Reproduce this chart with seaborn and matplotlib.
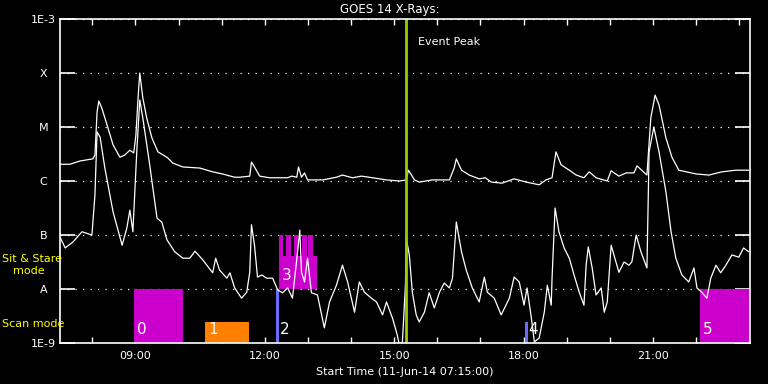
import numpy as np
import pandas as pd
import matplotlib
matplotlib.use('Agg')
import matplotlib.pyplot as plt
from matplotlib.ticker import FixedLocator, FuncFormatter, NullLocator
import seaborn as sns

# hours (UT, 11-Jun-14) and log10 of flux in W/m^2
long_hr = [7.25, 7.48, 7.71, 8.01, 8.06, 8.11, 8.15, 8.22, 8.34, 8.48, 8.64, 8.75, 8.87, 8.96,
           9.01, 9.06, 9.10, 9.17, 9.26, 9.38, 9.52, 9.73, 9.87, 10.10, 10.49, 10.79, 11.02,
           11.30, 11.42, 11.65, 11.69, 11.76, 11.88, 12.11, 12.53, 12.62, 12.74, 12.78, 12.85,
           12.92, 12.99, 13.34, 13.66, 13.80, 14.03, 14.24, 14.50, 14.82, 15.12, 15.28, 15.33,
           15.47, 15.58, 15.88, 16.28, 16.39, 16.44, 16.56, 16.74, 16.97, 17.11, 17.25, 17.50,
           17.78, 18.06, 18.36, 18.52, 18.66, 18.75, 18.87, 19.06, 19.22, 19.40, 19.52, 19.68,
           19.94, 20.03, 20.21, 20.38, 20.56, 20.63, 20.86, 20.95, 21.05, 21.14, 21.30, 21.44,
           21.60, 22.00, 22.30, 22.60, 22.92, 23.22]
long_log = [-5.69, -5.69, -5.63, -5.59, -5.52, -4.72, -4.52, -4.65, -4.96, -5.33, -5.56, -5.52,
            -5.43, -5.48, -5.15, -4.46, -4.00, -4.46, -4.83, -5.20, -5.46, -5.56, -5.67, -5.74,
            -5.76, -5.83, -5.87, -5.93, -5.93, -5.91, -5.65, -5.74, -5.91, -5.94, -5.94, -5.91,
            -5.93, -5.74, -5.93, -5.85, -5.98, -5.98, -5.93, -5.89, -5.94, -5.91, -5.94, -5.98,
            -6.00, -5.98, -5.80, -5.98, -6.02, -5.98, -5.98, -5.76, -5.59, -5.80, -5.89, -5.96,
            -5.94, -6.02, -6.04, -5.96, -6.02, -6.07, -5.98, -5.94, -5.46, -5.70, -5.80, -5.89,
            -5.94, -5.83, -5.94, -6.00, -5.81, -5.91, -5.85, -5.85, -5.72, -5.89, -4.83, -4.41,
            -4.59, -5.20, -5.56, -5.80, -5.87, -5.89, -5.83, -5.80, -5.80]

short_hr = [7.25, 7.37, 7.55, 7.76, 7.99, 8.06, 8.11, 8.18, 8.29, 8.48, 8.69, 8.80, 8.87, 8.94,
            9.03, 9.10, 9.17, 9.33, 9.50, 9.61, 9.73, 9.91, 10.10, 10.26, 10.38, 10.56, 10.79,
            10.86, 10.95, 11.12, 11.19, 11.30, 11.46, 11.58, 11.65, 11.69, 11.76, 11.83, 11.93,
            12.04, 12.18, 12.30, 12.41, 12.53, 12.64, 12.76, 12.81, 12.85, 12.92, 12.99, 13.08,
            13.22, 13.38, 13.50, 13.66, 13.80, 13.92, 14.08, 14.19, 14.31, 14.47, 14.59, 14.73,
            14.82, 14.96, 15.07, 15.12, 15.19, 15.26, 15.28, 15.35, 15.42, 15.51, 15.58, 15.70,
            15.81, 15.93, 16.05, 16.16, 16.28, 16.35, 16.44, 16.56, 16.67, 16.81, 16.97, 17.09,
            17.16, 17.32, 17.48, 17.67, 17.78, 17.90, 18.01, 18.08, 18.18, 18.25, 18.36, 18.48,
            18.55, 18.64, 18.66, 18.73, 18.82, 18.94, 19.06, 19.17, 19.29, 19.40, 19.45, 19.50,
            19.59, 19.68, 19.80, 19.87, 19.94, 20.03, 20.21, 20.33, 20.44, 20.51, 20.61, 20.72,
            20.86, 20.91, 21.02, 21.14, 21.30, 21.42, 21.53, 21.67, 21.83, 21.95, 22.02, 22.13,
            22.25, 22.34, 22.46, 22.57, 22.69, 22.83, 22.99, 23.10, 23.22]
short_log = [-7.04, -7.24, -7.13, -6.94, -7.00, -6.26, -5.09, -5.19, -5.76, -6.57, -7.19, -6.87,
             -6.54, -6.94, -5.46, -4.50, -4.83, -5.70, -6.69, -6.76, -7.09, -7.31, -7.43, -7.43,
             -7.30, -7.46, -7.70, -7.43, -7.65, -7.80, -7.70, -7.98, -8.17, -8.06, -7.69, -6.81,
             -7.19, -7.78, -7.74, -7.80, -7.80, -8.02, -8.07, -7.98, -8.17, -7.31, -6.91, -7.69,
             -7.87, -7.43, -8.07, -8.11, -8.72, -8.24, -7.93, -7.56, -7.87, -8.43, -7.87, -8.06,
             -8.17, -8.24, -8.48, -8.24, -8.54, -8.85, -9.04, -8.98, -7.93, -7.06, -7.37, -8.06,
             -8.48, -8.61, -8.43, -8.07, -8.35, -8.06, -7.89, -7.98, -7.80, -6.76, -7.31, -7.65,
             -7.98, -8.24, -7.78, -8.06, -8.17, -8.48, -8.17, -7.78, -7.87, -8.30, -7.98, -8.54,
             -8.98, -8.91, -8.43, -7.93, -8.30, -7.80, -6.50, -6.94, -7.24, -7.43, -7.74, -8.06,
             -8.30, -7.56, -7.22, -7.61, -8.11, -7.98, -8.43, -8.24, -7.19, -7.69, -7.50, -7.56,
             -7.50, -7.00, -7.31, -7.61, -5.46, -5.00, -5.46, -6.20, -6.94, -7.43, -7.74, -7.87,
             -7.61, -7.98, -8.06, -8.17, -7.80, -7.56, -7.70, -7.56, -7.37, -7.41, -7.24, -7.31]

event_peak_hr = 15.28

# observation blocks (scan mode below A, sit & stare between A and B)
obs_num = ['0', '1', '2', '3', '4', '5']
obs_start = [8.96, 10.61, 12.27, 12.32, 18.04, 22.09]
obs_end = [10.10, 11.63, 12.32, 13.22, 18.11, 23.25]
obs_bottom = [1e-9, 1e-9, 1e-9, 1e-8, 1e-9, 1e-9]
obs_top = [1e-8, 2.5e-9, 1e-8, 4.1e-8, 2.5e-9, 1e-8]
obs_color = ['#cc00cc', '#ff8000', '#6a6aff', '#cc00cc', '#6a6aff', '#cc00cc']
# rasters of block 3 reaching up to B
s3_start = [12.32, 12.50, 12.67, 12.85, 13.01]
s3_end = [12.41, 12.60, 12.76, 12.97, 13.11]

ytick_vals = [1e-9, 1e-8, 1e-7, 1e-6, 1e-5, 1e-4, 1e-3]
ytick_labels = ['1E-9', 'A', 'B', 'C', 'M', 'X', '1E-3']

sns.set_style('ticks')
plt.rcParams['font.family'] = ['DejaVu Sans']
plt.rcParams['font.size'] = 8

fig = plt.figure(figsize=(7.68, 3.84), dpi=100, facecolor='black')
ax = fig.add_axes([60/768, 41/384, 690/768, 324/384])
ax.set_facecolor('black')

obs = pd.DataFrame({'num': obs_num, 'start': obs_start, 'end': obs_end,
                    'bottom': obs_bottom, 'top': obs_top, 'color': obs_color})
ax.bar(obs['start'], obs['top'] - obs['bottom'], width=obs['end'] - obs['start'],
       bottom=obs['bottom'], align='edge', color=obs['color'], linewidth=0, zorder=1)
s3 = np.array(s3_start)
ax.bar(s3, 1e-7 - 1e-8, width=np.array(s3_end) - s3, bottom=1e-8, align='edge',
       color='#cc00cc', linewidth=0, zorder=1)
for _, r in obs.iterrows():
    ax.text(r['start'] + 0.07, r['bottom'] * 1.8, r['num'], color='white', fontsize=11,
            ha='left', va='center', zorder=3)

lc = pd.DataFrame({'hr': long_hr, 'flux': 10 ** np.array(long_log)})
sc = pd.DataFrame({'hr': short_hr, 'flux': 10 ** np.array(short_log)})
sns.lineplot(data=lc, x='hr', y='flux', ax=ax, color='white', lw=0.9, estimator=None, sort=False, zorder=2)
sns.lineplot(data=sc, x='hr', y='flux', ax=ax, color='white', lw=0.9, estimator=None, sort=False, zorder=2)

ax.axvline(event_peak_hr, color='#9acd00', lw=2, zorder=2)
ax.text(event_peak_hr + 0.26, 3.7e-4, 'Event Peak', color='white', fontsize=8, ha='left', va='center')

ax.set_yscale('log')
ax.set_ylim(1e-9, 1e-3)
ax.set_xlim(7.25, 23.25)
ax.yaxis.set_major_locator(FixedLocator(ytick_vals))
ax.yaxis.set_minor_locator(NullLocator())
ax.set_yticklabels(ytick_labels)
for lbl in ax.get_yticklabels():
    lbl.set_horizontalalignment('center')
ax.xaxis.set_major_locator(FixedLocator(np.arange(8, 24)))
ax.xaxis.set_major_formatter(FuncFormatter(lambda v, p: '%02d:00' % int(v) if int(v) % 3 == 0 else ''))
ax.tick_params(axis='y', which='major', direction='in', length=11, width=1.2, color='white',
               labelcolor='white', left=True, right=True, pad=12, labelsize=8)
ax.tick_params(axis='x', which='major', direction='in', length=4, width=1, color='white',
               labelcolor='white', top=True, bottom=True, pad=6, labelsize=8)
ax.grid(axis='y', color='white', linestyle=(0, (1, 5)), lw=0.9)
for s in ax.spines.values():
    s.set_color('white')
    s.set_linewidth(1.2)
ax.set_xlabel('Start Time (11-Jun-14 07:15:00)', color='white', fontsize=8, labelpad=4)
ax.set_ylabel('')

fig.text(390/768, 1 - 9/384, 'GOES 14 X-Rays:', color='white', fontsize=8.5, ha='center', va='center')
fig.text(2/768, 1 - 259/384, 'Sit & Stare', color='#ffff00', fontsize=8, ha='left', va='center')
fig.text(13/768, 1 - 271/384, 'mode', color='#ffff00', fontsize=8, ha='left', va='center')
fig.text(2/768, 1 - 324/384, 'Scan mode', color='#ffff00', fontsize=8, ha='left', va='center')

fig.savefig('out.png', dpi=100, facecolor='black')
